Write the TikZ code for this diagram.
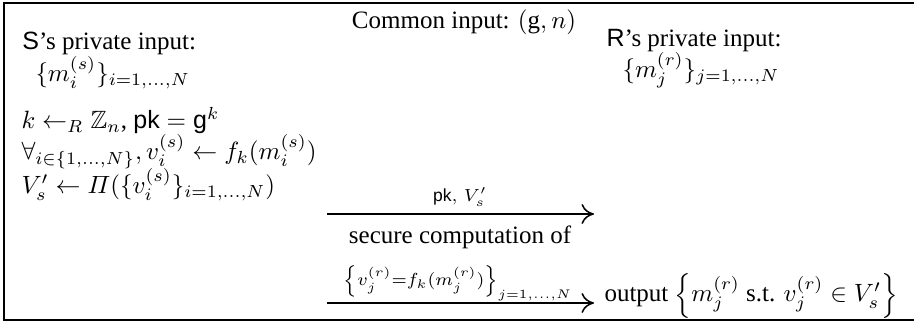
\documentclass[tikz,border=0pt]{standalone}
\usepackage{amsmath,amssymb}
\usepackage{fontspec}
\setmainfont{Liberation Serif}
\setsansfont{Liberation Sans}
\usetikzlibrary{arrows.meta}
\newcommand{\sfx}[1]{\text{\sffamily #1}}
\tikzset{
  txt/.style={anchor=base west, inner sep=0pt, font=\fontsize{10}{12}\selectfont},
  ctxt/.style={anchor=base, inner sep=0pt, font=\fontsize{10}{12}\selectfont},
  msg/.style={line width=1pt, -{To[length=5pt,width=8pt,line width=0.6pt]}},
  frame/.style={line width=1.1pt}
}
\begin{document}
\begin{tikzpicture}[x=0.4pt,y=-0.4pt]
\useasboundingbox (0,0) rectangle (914,324);
\draw[frame] (4,3) rectangle (940,320);
% common
\node[ctxt] (common) at (464,29) {Common input: $(\text{g}, n)$};
% sender
\node[txt] (sin) at (22,50) {\textsf{S}'s private input:};
\node[txt] (sset) at (35,82) {$\{m_i^{(s)}\}_{i=1,\ldots,N}$};
\node[txt] (s1) at (21,129) {$k \leftarrow_R \mathbb{Z}_n$, $\sfx{pk} = \sfx{g}^k$};
\node[txt] (s2) at (21,160) {$\forall_{i\in\{1,\ldots,N\}}, v_i^{(s)} \leftarrow f_k(m_i^{(s)})$};
\node[txt] (s3) at (21,194) {$V_s' \leftarrow \varPi(\{v_i^{(s)}\}_{i=1,\ldots,N})$};
% receiver
\node[txt] (rin) at (606,47) {\textsf{R}'s private input:};
\node[txt] (rset) at (622,78) {$\{m_j^{(r)}\}_{j=1,\ldots,N}$};
% messages
\coordinate (a1s) at (327,214);
\coordinate (a1e) at (594,214);
\coordinate (a2s) at (327,303);
\coordinate (a2e) at (594,303);
\draw[msg] (a1s) -- (a1e);
\draw[msg] (a2s) -- (a2e);
\node[ctxt] (l1) at (460,202) {$\scriptstyle \sfx{pk},\ V_s'$};
\node[ctxt] (l2a) at (460,244) {secure computation of};
\node[ctxt] (l2b) at (458,286) {$\scriptstyle \left\{v_j^{(r)}=f_k(m_j^{(r)})\right\}_{j=1,\ldots,N}$};
\node[txt] (out) at (604,302) {output $\left\{m_j^{(r)} \text{ s.t. } v_j^{(r)} \in V_s'\right\}$};
\end{tikzpicture}
\end{document}
